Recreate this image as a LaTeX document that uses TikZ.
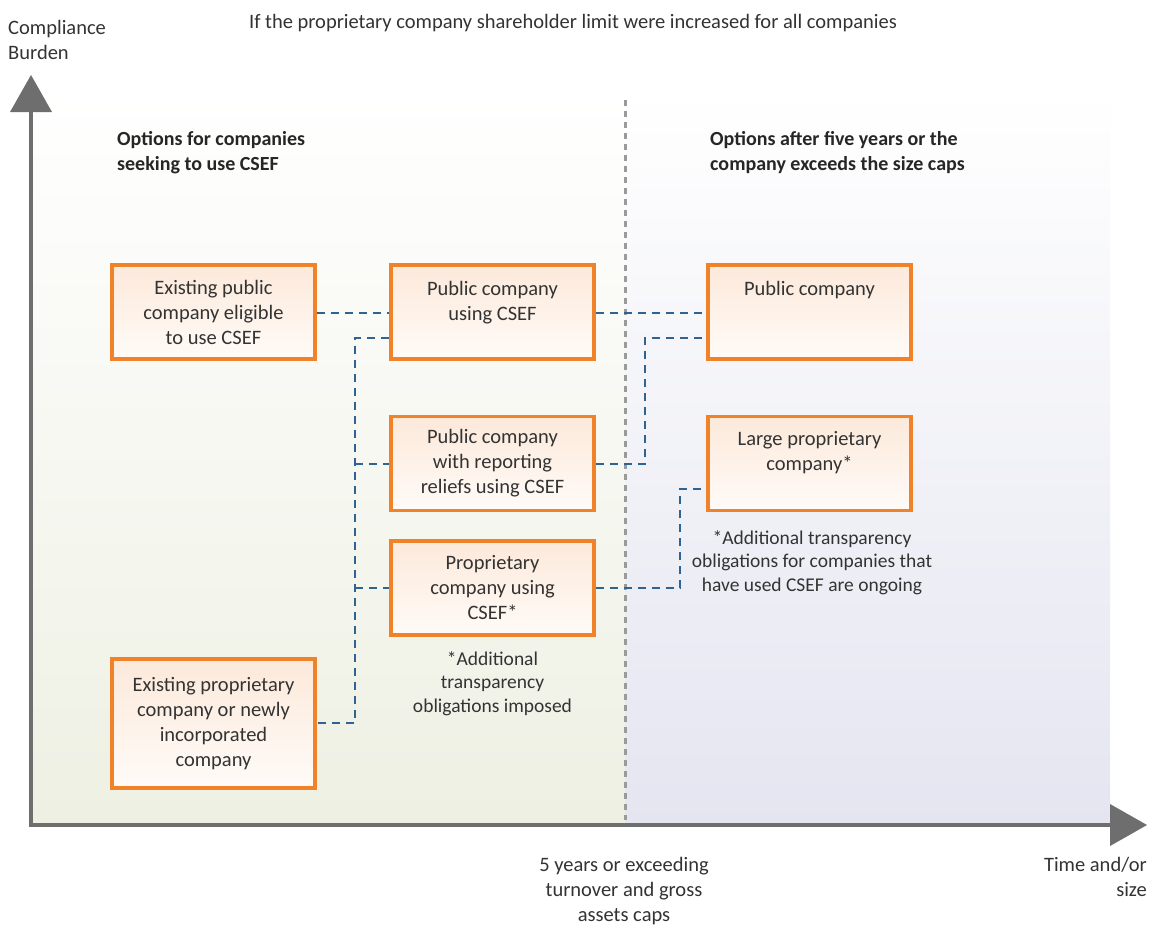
\documentclass[tikz,border=0pt]{standalone}
\usepackage{fontspec}
\setmainfont{Carlito}
\usetikzlibrary{positioning}
\definecolor{axisgray}{HTML}{6E6E6E}
\definecolor{divgray}{HTML}{9A9A9A}
\definecolor{boxorange}{HTML}{F0822A}
\definecolor{linkblue}{HTML}{2F6392}
\definecolor{txt}{HTML}{333333}
\definecolor{leftbot}{HTML}{EEF0E3}
\definecolor{rightbot}{HTML}{E4E5F0}
\definecolor{boxtop}{HTML}{FCE9DA}
\definecolor{boxbot}{HTML}{FFFBF8}
\tikzset{
  optbox/.style={draw=boxorange, line width=3.5pt, top color=boxtop, bottom color=boxbot,
    minimum width=203pt, minimum height=94pt, inner sep=0pt},
  boxtext/.style={align=center, text=txt, font=\fontsize{20.5}{25}\selectfont, inner sep=0pt},
  notetext/.style={align=center, text=txt, font=\fontsize{19.5}{23.5}\selectfont, inner sep=0pt},
  plain/.style={text=txt, font=\fontsize{20.5}{25}\selectfont, inner sep=0pt},
  head/.style={text=black!85, font=\fontsize{20}{25}\selectfont\bfseries, inner sep=0pt, align=left},
  link/.style={draw=linkblue, line width=2.2pt, dash pattern=on 8pt off 6pt},
}
\begin{document}
\begin{tikzpicture}[x=1pt,y=-1pt]
\useasboundingbox (0,0) rectangle (1155,926);
\fill[white] (0,0) rectangle (1155,926);
% backgrounds
\shade[top color=white, bottom color=leftbot] (31,90) rectangle (625,825);
\shade[top color=white, bottom color=rightbot] (625,90) rectangle (1110,825);
% divider
\draw[divgray, line width=3pt, dash pattern=on 6pt off 5pt] (625,100) -- (625,820);
% axes
\coordinate (origin) at (31,825);
\coordinate (ytip) at (31,112);
\coordinate (xtip) at (1110,825);
\draw[axisgray, line width=4.5pt] (ytip) -- (origin) -- (xtip);
\fill[axisgray] (31,75) -- (52,112) -- (10,112) -- cycle;
\fill[axisgray] (1147,825) -- (1110,804) -- (1110,846) -- cycle;
% titles
\node[plain, anchor=base] (title) at (573,28) {If the proprietary company shareholder limit were increased for all companies};
\node[plain, anchor=base west, align=left] (ylab) at (8,59) {Compliance\\Burden};
\node[head, anchor=base west] (hl) at (117,170) {Options for companies\\seeking to use CSEF};
\node[head, anchor=base west] (hr) at (710,170) {Options after five years or the\\company exceeds the size caps};
\node[plain, anchor=base, align=center] (xmid) at (624,921) {5 years or exceeding\\turnover and gross\\assets caps};
\node[plain, anchor=base east, align=right] (xlab) at (1147,896) {Time and/or\\size};
% boxes
\node[optbox] (b1) at (213.5,312) {};
\node[boxtext] at (b1) {Existing public\\company eligible\\to use CSEF};
\node[optbox] (b2) at (492.5,312) {};
\node[boxtext, anchor=base] at (492.5,320) {Public company\\using CSEF};
\node[optbox] (b3) at (492.5,463.5) {};
\node[boxtext] at (b3) {Public company\\with reporting\\reliefs using CSEF};
\node[optbox] (b4) at (492.5,588) {};
\node[boxtext] at (b4) {Proprietary\\company using\\CSEF*};
\node[optbox, minimum height=129pt] (b5) at (213.5,723.5) {};
\node[boxtext] at (b5) {Existing proprietary\\company or newly\\incorporated\\company};
\node[optbox] (b6) at (809.5,312) {};
\node[boxtext, anchor=base] at (809.5,295) {Public company};
\node[optbox] (b7) at (809.5,463.5) {};
\node[boxtext, anchor=base] at (809.5,470) {Large proprietary\\company*};
% notes
\node[notetext, anchor=base] (n1) at (492.5,712) {*Additional\\transparency\\obligations imposed};
\node[notetext, anchor=base] (n2) at (812,591) {*Additional transparency\\obligations for companies that\\have used CSEF are ongoing};
% connectors
\draw[link] (b1.east |- 0,313) -- (b2.west |- 0,313);
\draw[link] (b2.west |- 0,338) -- (355,338) -- (355,723) -- (b5.east |- 0,723);
\draw[link] (355,464) -- (b3.west |- 0,464);
\draw[link] (355,588) -- (b4.west |- 0,588);
\draw[link] (b2.east |- 0,313) -- (b6.west |- 0,313);
\draw[link] (b3.east |- 0,464) -- (645,464) -- (645,338) -- (b6.west |- 0,338);
\draw[link] (b4.east |- 0,588) -- (680,588) -- (680,489) -- (b7.west |- 0,489);
\end{tikzpicture}
\end{document}
